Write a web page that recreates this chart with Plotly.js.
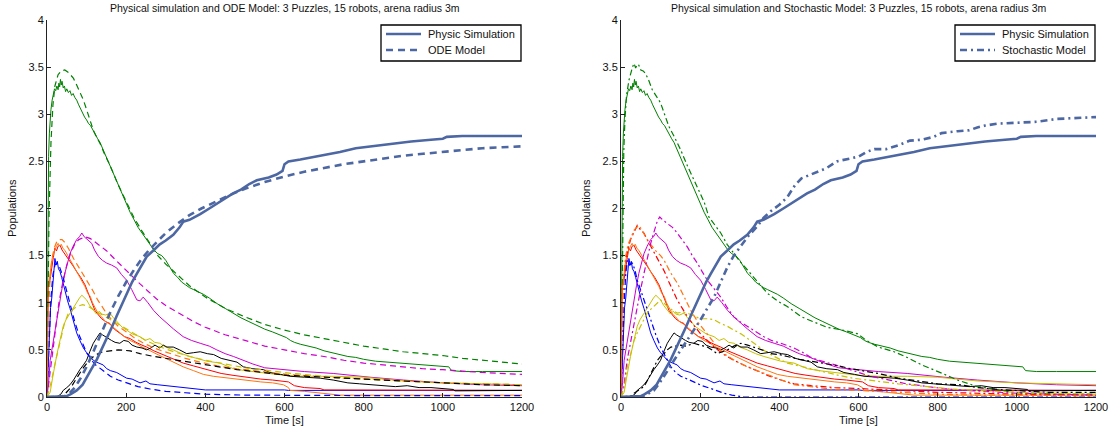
<!DOCTYPE html>
<html>
<head>
<meta charset="utf-8">
<script src="https://cdn.plot.ly/plotly-3.0.1.min.js"></script>
<style>html,body{margin:0;padding:0;background:#fff;}#chart{width:1110px;height:432px;}</style>
</head>
<body>
<div id="chart"></div>
<script>
// ---- Tick labels ----
const xTicks = [0, 200, 400, 600, 800, 1000, 1200];
const yTicks = [0, 0.5, 1, 1.5, 2, 2.5, 3, 3.5, 4];
const yTickText = ["0", "0.5", "1", "1.5", "2", "2.5", "3", "3.5", "4"];

const titleLeft = "Physical simulation and ODE Model: 3 Puzzles, 15 robots, arena radius 3m";
const titleRight = "Physical simulation and Stochastic Model: 3 Puzzles, 15 robots, arena radius 3m";
const xLabel = "Time [s]";
const yLabel = "Populations";
const legendNames = ["Physic Simulation", "ODE Model", "Stochastic Model"];

// ---- Physical simulation series [time, population] ----
const greenSim = [[0,0],[1,1.0],[2,2.0],[4,2.55],[6,2.8],[8,2.95],[10,3.05],[13,3.15],[16,3.22],[19,3.27],[22,3.25],[25,3.3],[28,3.26],[30,3.33],[32,3.29],[34,3.37],[36,3.31],[38,3.35],[41,3.28],[44,3.3],[47,3.24],[50,3.27],[54,3.23],[58,3.25],[62,3.2],[66,3.22],[70,3.18],[75,3.15],[80,3.1],[85,3.05],[90,3.02],[95,2.97],[100,2.94],[105,2.9],[110,2.88],[116,2.83],[122,2.78],[128,2.74],[134,2.7],[140,2.64],[146,2.6],[152,2.53],[158,2.46],[164,2.4],[170,2.34],[176,2.28],[184,2.2],[192,2.12],[200,2.05],[210,1.96],[220,1.88],[230,1.8],[240,1.74],[250,1.68],[260,1.62],[270,1.56],[280,1.52],[290,1.5],[300,1.45],[310,1.38],[320,1.31],[330,1.27],[340,1.22],[350,1.19],[360,1.16],[370,1.14],[380,1.12],[395,1.09],[410,1.05],[430,0.99],[450,0.94],[470,0.89],[490,0.84],[510,0.8],[530,0.76],[550,0.72],[570,0.69],[590,0.66],[605,0.63],[615,0.6],[625,0.58],[640,0.56],[660,0.54],[680,0.52],[700,0.49],[720,0.47],[740,0.45],[760,0.43],[780,0.42],[800,0.4],[830,0.38],[860,0.37],[900,0.36],[950,0.34],[1000,0.33],[1015,0.32],[1022,0.28],[1050,0.27],[1100,0.27],[1200,0.27]];
const blueSim = [[0,0],[3,0.3],[6,0.7],[9,0.95],[12,1.05],[15,1.2],[18,1.38],[20,1.47],[23,1.4],[26,1.44],[29,1.36],[33,1.33],[37,1.27],[41,1.2],[46,1.12],[52,1.02],[58,0.94],[64,0.84],[70,0.75],[75,0.68],[83,0.6],[92,0.52],[100,0.47],[109,0.43],[117,0.39],[125,0.37],[135,0.35],[142,0.34],[151,0.3],[160,0.28],[176,0.26],[190,0.23],[201,0.2],[215,0.19],[235,0.15],[250,0.17],[260,0.14],[280,0.13],[300,0.12],[320,0.11],[340,0.1],[361,0.09],[379,0.08],[400,0.075],[600,0.075],[610,0.07],[1200,0.07]];
const redSim = [[0,0],[1,0.85],[3,1.17],[6,1.2],[9,1.3],[12,1.38],[16,1.48],[20,1.58],[24,1.55],[28,1.6],[33,1.61],[38,1.56],[45,1.52],[52,1.48],[58,1.44],[66,1.39],[75,1.33],[85,1.27],[96,1.19],[103,1.12],[109,1.06],[115,0.98],[121,0.92],[130,0.87],[138,0.83],[148,0.8],[159,0.78],[170,0.72],[184,0.68],[196,0.64],[210,0.62],[225,0.58],[240,0.55],[252,0.53],[270,0.49],[294,0.45],[320,0.4],[344,0.36],[370,0.33],[395,0.3],[420,0.27],[440,0.25],[470,0.23],[500,0.21],[540,0.19],[570,0.18],[597,0.17],[610,0.16],[625,0.12],[650,0.1],[690,0.09],[700,0.075],[1200,0.07]];
const orangeSim = [[0,0],[1,0.9],[3,1.2],[6,1.25],[9,1.35],[12,1.45],[16,1.52],[20,1.57],[24,1.6],[28,1.63],[32,1.6],[36,1.62],[40,1.58],[46,1.55],[52,1.5],[58,1.46],[66,1.4],[75,1.33],[85,1.26],[96,1.17],[103,1.1],[109,1.07],[115,1.0],[121,0.95],[130,0.88],[138,0.85],[148,0.8],[159,0.77],[170,0.73],[184,0.68],[196,0.64],[210,0.6],[225,0.57],[240,0.53],[252,0.51],[270,0.47],[294,0.42],[320,0.37],[344,0.32],[370,0.28],[395,0.24],[420,0.22],[440,0.21],[470,0.19],[500,0.18],[540,0.16],[570,0.15],[597,0.13],[610,0.1],[614,0.07],[650,0.06],[690,0.045],[720,0.03],[740,0.02],[1200,0.02]];
const magentaSim = [[0,0],[4,0.15],[8,0.39],[14,0.55],[20,0.68],[26,0.85],[33,1.03],[39,1.18],[45,1.31],[52,1.42],[58,1.52],[66,1.6],[75,1.67],[82,1.7],[88,1.74],[94,1.7],[100,1.68],[106,1.65],[113,1.63],[120,1.56],[130,1.49],[140,1.45],[151,1.42],[163,1.4],[176,1.37],[188,1.3],[201,1.24],[214,1.14],[227,1.03],[235,1.02],[243,1.06],[255,1.0],[269,0.92],[285,0.85],[303,0.78],[320,0.72],[344,0.64],[365,0.6],[387,0.57],[410,0.54],[429,0.5],[450,0.46],[471,0.43],[500,0.38],[520,0.35],[550,0.31],[597,0.29],[650,0.27],[723,0.25],[780,0.23],[816,0.21],[900,0.18],[1000,0.15],[1100,0.13],[1200,0.12]];
const yellowSim = [[0,0],[4,0.03],[8,0.05],[14,0.2],[20,0.35],[24,0.43],[30,0.55],[36,0.66],[41,0.75],[48,0.82],[58,0.89],[66,0.95],[75,1.01],[82,1.05],[88,1.08],[94,1.06],[100,1.03],[108,0.97],[117,0.92],[125,0.88],[132,0.91],[138,0.88],[148,0.87],[159,0.89],[168,0.84],[180,0.78],[190,0.74],[201,0.71],[215,0.67],[235,0.64],[248,0.6],[260,0.62],[272,0.58],[285,0.57],[300,0.53],[319,0.5],[340,0.46],[361,0.43],[380,0.41],[404,0.38],[437,0.36],[471,0.3],[500,0.28],[555,0.25],[600,0.23],[650,0.22],[723,0.22],[800,0.21],[850,0.19],[900,0.17],[1000,0.15],[1100,0.14],[1200,0.13]];
const blackSim = [[0,0],[24,0.0],[35,0.03],[41,0.07],[50,0.1],[58,0.13],[67,0.18],[75,0.24],[83,0.29],[92,0.34],[100,0.39],[108,0.48],[117,0.57],[126,0.63],[134,0.68],[140,0.66],[147,0.64],[155,0.62],[163,0.6],[172,0.58],[184,0.57],[194,0.6],[205,0.59],[215,0.55],[227,0.53],[240,0.52],[252,0.5],[262,0.52],[273,0.55],[285,0.52],[294,0.55],[303,0.53],[319,0.53],[335,0.5],[353,0.46],[370,0.47],[387,0.48],[405,0.46],[421,0.45],[440,0.41],[460,0.39],[480,0.37],[496,0.32],[520,0.3],[547,0.29],[563,0.26],[590,0.24],[614,0.22],[650,0.21],[690,0.2],[723,0.18],[760,0.15],[790,0.14],[816,0.13],[850,0.12],[880,0.11],[910,0.12],[940,0.1],[970,0.1],[1000,0.09],[1027,0.08],[1030,0.065],[1100,0.065],[1200,0.07]];
const steelSim = [[0,0],[50,0.01],[60,0.03],[75,0.07],[90,0.13],[100,0.2],[110,0.28],[126,0.4],[140,0.52],[151,0.62],[165,0.75],[176,0.86],[190,0.99],[201,1.1],[215,1.22],[227,1.31],[240,1.4],[252,1.49],[270,1.56],[285,1.62],[300,1.66],[319,1.72],[335,1.8],[344,1.86],[360,1.88],[387,1.94],[410,2.0],[429,2.05],[450,2.1],[470,2.16],[490,2.2],[511,2.26],[530,2.3],[560,2.33],[580,2.36],[595,2.4],[600,2.47],[610,2.5],[640,2.52],[690,2.56],[720,2.58],[740,2.6],[780,2.64],[820,2.66],[870,2.69],[920,2.71],[970,2.73],[1000,2.74],[1010,2.76],[1049,2.77],[1200,2.77]];

// ---- ODE model series ----
const greenODE = [[0,0],[2,0.9],[5,1.9],[10,2.7],[15,3.1],[20,3.3],[28,3.42],[36,3.46],[45,3.47],[55,3.44],[67,3.38],[75,3.31],[83,3.24],[92,3.15],[100,3.05],[108,2.95],[117,2.83],[125,2.76],[134,2.69],[145,2.58],[160,2.45],[180,2.25],[200,2.07],[220,1.9],[240,1.76],[260,1.63],[280,1.5],[300,1.41],[330,1.29],[360,1.18],[400,1.06],[450,0.94],[500,0.85],[550,0.77],[600,0.71],[650,0.66],[700,0.62],[750,0.58],[800,0.54],[850,0.51],[900,0.48],[950,0.46],[1000,0.44],[1050,0.41],[1100,0.39],[1150,0.37],[1200,0.35]];
const blueODE = [[0,0],[5,0.6],[10,1.05],[15,1.3],[20,1.4],[25,1.42],[30,1.4],[40,1.28],[50,1.12],[60,0.95],[70,0.8],[80,0.67],[90,0.56],[100,0.47],[120,0.35],[140,0.28],[160,0.22],[180,0.18],[200,0.15],[230,0.11],[260,0.085],[300,0.06],[350,0.045],[400,0.03],[500,0.02],[600,0.018],[800,0.015],[1200,0.015]];
const orangeODE = [[0,0],[3,0.8],[7,1.2],[12,1.45],[18,1.58],[24,1.64],[30,1.67],[38,1.67],[45,1.64],[55,1.57],[67,1.47],[80,1.38],[92,1.29],[105,1.21],[117,1.12],[128,1.03],[138,0.96],[150,0.89],[163,0.82],[180,0.75],[201,0.69],[220,0.63],[240,0.58],[265,0.53],[290,0.49],[320,0.45],[350,0.41],[387,0.37],[430,0.33],[480,0.3],[540,0.27],[606,0.24],[680,0.22],[750,0.2],[816,0.19],[900,0.17],[1000,0.15],[1100,0.14],[1200,0.13]];
const magentaODE = [[0,0],[10,0.35],[20,0.7],[30,1.0],[40,1.22],[50,1.4],[60,1.53],[70,1.62],[80,1.67],[96,1.7],[110,1.68],[130,1.62],[151,1.55],[172,1.46],[193,1.37],[215,1.28],[235,1.2],[256,1.12],[277,1.04],[300,0.97],[336,0.88],[370,0.8],[400,0.74],[450,0.66],[500,0.6],[550,0.54],[600,0.5],[650,0.46],[700,0.43],[750,0.39],[800,0.36],[850,0.34],[900,0.32],[950,0.3],[1000,0.29],[1100,0.26],[1200,0.24]];
const yellowODE = [[0,0],[10,0.15],[20,0.35],[33,0.6],[44,0.78],[54,0.89],[65,0.93],[75,0.96],[90,0.98],[105,0.96],[120,0.92],[140,0.87],[160,0.82],[180,0.77],[200,0.72],[220,0.67],[250,0.6],[280,0.54],[320,0.48],[360,0.43],[400,0.39],[450,0.35],[500,0.31],[560,0.28],[620,0.25],[700,0.22],[800,0.19],[900,0.17],[1000,0.15],[1100,0.14],[1200,0.13]];
const blackODE = [[0,0],[30,0.0],[45,0.03],[60,0.1],[75,0.2],[90,0.3],[105,0.38],[120,0.44],[140,0.48],[160,0.49],[180,0.5],[210,0.49],[235,0.46],[270,0.43],[300,0.41],[336,0.38],[387,0.35],[429,0.32],[480,0.29],[547,0.26],[606,0.23],[700,0.21],[816,0.19],[900,0.17],[1000,0.15],[1100,0.13],[1200,0.12]];
const steelODE = [[0,0],[40,0],[55,0.03],[70,0.1],[85,0.2],[100,0.32],[115,0.46],[130,0.61],[145,0.76],[160,0.9],[180,1.07],[200,1.22],[220,1.35],[240,1.47],[260,1.57],[280,1.66],[300,1.74],[330,1.84],[360,1.93],[390,2.0],[420,2.06],[460,2.14],[500,2.21],[550,2.28],[600,2.34],[650,2.39],[700,2.43],[750,2.47],[800,2.5],[850,2.53],[900,2.56],[950,2.58],[1000,2.6],[1050,2.62],[1100,2.64],[1150,2.65],[1200,2.66]];

// ---- Stochastic model series ----
const greenSto = [[0,0],[2,1.0],[4,1.9],[7,2.6],[10,2.95],[14,3.2],[20,3.36],[25,3.45],[29,3.5],[33,3.54],[37,3.49],[41,3.53],[45,3.52],[50,3.47],[56,3.46],[62,3.43],[70,3.36],[79,3.26],[90,3.18],[100,3.12],[110,3.0],[121,2.87],[136,2.75],[151,2.62],[168,2.45],[184,2.3],[200,2.15],[210,2.07],[222,1.91],[237,1.83],[252,1.74],[268,1.62],[285,1.52],[300,1.44],[319,1.35],[345,1.22],[370,1.1],[395,1.02],[420,0.96],[456,0.85],[490,0.79],[520,0.74],[560,0.71],[598,0.67],[620,0.6],[650,0.53],[690,0.48],[723,0.42],[760,0.34],[790,0.29],[812,0.25],[850,0.18],[880,0.14],[900,0.11],[950,0.08],[989,0.05],[1050,0.04],[1100,0.03],[1200,0.03]];
const blueSto = [[0,0],[4,0.6],[8,1.0],[12,1.3],[16,1.45],[22,1.4],[29,1.42],[35,1.35],[41,1.24],[50,1.13],[58,1.03],[66,0.92],[75,0.82],[88,0.66],[100,0.53],[113,0.42],[126,0.32],[138,0.26],[151,0.22],[168,0.19],[184,0.16],[205,0.12],[227,0.09],[245,0.06],[260,0.04],[280,0.02],[294,0.01],[310,0],[1200,0]];
const redSto = [[0,0],[3,0.9],[7,1.25],[12,1.45],[18,1.58],[25,1.68],[33,1.75],[41,1.82],[50,1.77],[58,1.74],[66,1.67],[75,1.6],[88,1.5],[100,1.42],[110,1.33],[121,1.22],[132,1.12],[142,1.03],[155,0.94],[168,0.85],[184,0.76],[201,0.67],[218,0.6],[235,0.53],[260,0.45],[285,0.39],[310,0.34],[336,0.29],[370,0.23],[404,0.18],[437,0.14],[480,0.12],[540,0.1],[600,0.09],[650,0.08],[700,0.07],[800,0.05],[900,0.04],[1000,0.03],[1100,0.02],[1200,0.02]];
const orangeSto = [[0,0],[3,1.0],[7,1.3],[12,1.5],[18,1.62],[25,1.7],[33,1.77],[40,1.8],[45,1.82],[52,1.78],[62,1.7],[75,1.62],[88,1.55],[100,1.5],[109,1.45],[125,1.32],[142,1.21],[160,1.06],[176,0.92],[195,0.79],[218,0.67],[240,0.55],[260,0.46],[290,0.38],[319,0.32],[350,0.27],[378,0.22],[410,0.17],[437,0.13],[480,0.11],[536,0.08],[600,0.07],[650,0.06],[700,0.05],[760,0.04],[800,0.03],[900,0.02],[1000,0.02],[1200,0.01]];
const magentaSto = [[0,0],[8,0.14],[16,0.4],[25,0.6],[33,0.8],[41,0.96],[50,1.15],[58,1.31],[66,1.47],[75,1.63],[84,1.76],[92,1.87],[98,1.91],[105,1.88],[117,1.84],[130,1.8],[142,1.74],[155,1.66],[168,1.59],[180,1.5],[193,1.42],[205,1.33],[218,1.24],[235,1.15],[252,1.06],[268,0.95],[285,0.85],[300,0.8],[319,0.75],[340,0.69],[361,0.64],[380,0.6],[404,0.57],[437,0.52],[456,0.48],[480,0.42],[500,0.39],[550,0.33],[589,0.28],[630,0.22],[678,0.18],[720,0.14],[760,0.12],[812,0.09],[870,0.07],[950,0.05],[1000,0.04],[1100,0.03],[1200,0.02]];
const yellowSto = [[0,0],[8,0.1],[16,0.32],[25,0.47],[33,0.6],[41,0.68],[50,0.75],[58,0.82],[66,0.89],[75,0.93],[83,0.96],[92,1.0],[100,1.03],[108,1.0],[117,0.96],[130,0.92],[142,0.89],[155,0.9],[168,0.89],[184,0.86],[201,0.83],[218,0.83],[235,0.82],[252,0.78],[269,0.75],[285,0.71],[303,0.67],[320,0.62],[336,0.57],[356,0.51],[378,0.45],[400,0.4],[420,0.36],[450,0.33],[480,0.3],[515,0.26],[550,0.23],[585,0.2],[620,0.18],[660,0.16],[700,0.14],[750,0.12],[800,0.1],[850,0.08],[900,0.07],[1000,0.05],[1100,0.04],[1200,0.03]];
const blackSto = [[0,0],[25,0.01],[33,0.04],[45,0.07],[58,0.11],[66,0.17],[75,0.25],[84,0.32],[92,0.39],[100,0.43],[109,0.46],[117,0.5],[126,0.53],[138,0.54],[151,0.55],[165,0.54],[184,0.57],[200,0.55],[218,0.53],[230,0.5],[243,0.46],[256,0.48],[269,0.5],[285,0.54],[303,0.57],[320,0.55],[336,0.53],[356,0.5],[378,0.46],[400,0.45],[420,0.43],[450,0.4],[480,0.38],[510,0.36],[550,0.33],[580,0.3],[610,0.28],[650,0.25],[700,0.2],[750,0.17],[800,0.14],[856,0.13],[900,0.1],[950,0.08],[1000,0.07],[1078,0.05],[1150,0.05],[1200,0.05]];
const steelSto = [[0,0],[50,0],[66,0.03],[83,0.07],[96,0.14],[109,0.22],[121,0.3],[134,0.39],[151,0.5],[168,0.6],[184,0.71],[201,0.82],[218,0.94],[235,1.06],[252,1.22],[269,1.38],[285,1.5],[303,1.6],[320,1.7],[344,1.81],[360,1.9],[378,1.97],[400,2.04],[420,2.12],[440,2.25],[456,2.32],[480,2.36],[500,2.4],[520,2.43],[545,2.5],[570,2.52],[600,2.55],[620,2.6],[640,2.63],[670,2.63],[700,2.67],[730,2.72],[760,2.73],[790,2.76],[810,2.8],[850,2.82],[880,2.83],[900,2.86],[920,2.88],[950,2.9],[1000,2.91],[1050,2.92],[1100,2.95],[1150,2.96],[1200,2.97]];

// ---- Styles ----
const C = {green:'#008000', blue:'#0000ff', red:'#ff0000', orange:'#ff7410', magenta:'#cc00cc', yellow:'#c8c000', black:'#000000', steel:'#4d67a3'};
const DASH_ODE = '7px,5px';
const DASH_STO = '7px,4px,2px,4px';

function tr(pairs, color, width, dash, xa, ya, name) {
  return {
    type: 'scatter', mode: 'lines',
    x: pairs.map(p => p[0]), y: pairs.map(p => p[1]),
    line: {color: color, width: width, dash: dash},
    xaxis: xa, yaxis: ya, name: name || '', showlegend: false,
    hoverinfo: 'skip'
  };
}

const simSet = [[greenSim,'green'],[blueSim,'blue'],[redSim,'red'],[orangeSim,'orange'],[magentaSim,'magenta'],[yellowSim,'yellow'],[blackSim,'black']];
const odeSet = [[greenODE,'green'],[blueODE,'blue'],[orangeODE,'orange'],[magentaODE,'magenta'],[yellowODE,'yellow'],[blackODE,'black']];
const stoSet = [[greenSto,'green'],[blueSto,'blue'],[redSto,'red'],[orangeSto,'orange'],[magentaSto,'magenta'],[yellowSto,'yellow'],[blackSto,'black']];

const traces = [];
// Left panel
simSet.forEach(s => traces.push(tr(s[0], C[s[1]], 1, 'solid', 'x', 'y')));
odeSet.forEach(s => traces.push(tr(s[0], C[s[1]], 1.2, '6px,4px', 'x', 'y')));
traces.push(tr(steelSim, C.steel, 2.6, 'solid', 'x', 'y', legendNames[0]));
traces.push(tr(steelODE, C.steel, 2.6, DASH_ODE, 'x', 'y', legendNames[1]));
// Right panel
simSet.forEach(s => traces.push(tr(s[0], C[s[1]], 1, 'solid', 'x2', 'y2')));
stoSet.forEach(s => traces.push(tr(s[0], C[s[1]], 1.2, '6px,3px,2px,3px', 'x2', 'y2')));
traces.push(tr(steelSim, C.steel, 2.6, 'solid', 'x2', 'y2', legendNames[0]));
traces.push(tr(steelSto, C.steel, 2.6, DASH_STO, 'x2', 'y2', legendNames[2]));

const W = 1110, H = 432;
const yDom = [35/H, 412/H];
function xa(dom) {
  return {domain: dom, range: [0, 1200], tickmode: 'array', tickvals: xTicks, ticks: 'inside', ticklen: 4,
    tickcolor: '#222', showline: true, linecolor: '#222', linewidth: 1, showgrid: false, zeroline: false,
    automargin: false, fixedrange: true, tickfont: {size: 11, color: '#111'}};
}
function ya(anchor) {
  return {domain: yDom, range: [0, 4], tickmode: 'array', tickvals: yTicks, ticktext: yTickText, ticks: 'inside', ticklen: 4,
    tickcolor: '#222', showline: true, linecolor: '#222', linewidth: 1, showgrid: false, zeroline: false,
    automargin: false, fixedrange: true, anchor: anchor, tickfont: {size: 11, color: '#111'}};
}

// ---- Legend boxes (drawn in paper space, pixel positions converted) ----
const px = v => v / W, py = v => (H - v) / H;
const shapes = [];
const annotations = [
  {text: titleLeft, xref: 'paper', yref: 'paper', x: px(284.5), y: py(8), xanchor: 'center', yanchor: 'middle', showarrow: false, font: {size: 10.5}},
  {text: titleRight, xref: 'paper', yref: 'paper', x: px(858.5), y: py(8), xanchor: 'center', yanchor: 'middle', showarrow: false, font: {size: 10.5}},
  {text: xLabel, xref: 'paper', yref: 'paper', x: px(284.5), y: py(420), xanchor: 'center', yanchor: 'middle', showarrow: false, font: {size: 11}},
  {text: xLabel, xref: 'paper', yref: 'paper', x: px(858.5), y: py(420), xanchor: 'center', yanchor: 'middle', showarrow: false, font: {size: 11}},
  {text: yLabel, xref: 'paper', yref: 'paper', x: px(12), y: py(208), xanchor: 'center', yanchor: 'middle', textangle: -90, showarrow: false, font: {size: 11}},
  {text: yLabel, xref: 'paper', yref: 'paper', x: px(586), y: py(208), xanchor: 'center', yanchor: 'middle', textangle: -90, showarrow: false, font: {size: 11}}
];
function addLegend(x0, labels, dashes) {
  shapes.push({type: 'rect', xref: 'paper', yref: 'paper', x0: px(x0), x1: px(x0 + 140), y0: py(61), y1: py(25),
    line: {color: '#000', width: 1.3}, fillcolor: '#fff', layer: 'above'});
  [34, 50].forEach((yy, i) => {
    shapes.push({type: 'line', xref: 'paper', yref: 'paper', x0: px(x0 + 5), x1: px(x0 + 40), y0: py(yy), y1: py(yy),
      line: {color: C.steel, width: 2.6, dash: dashes[i]}, layer: 'above'});
    annotations.push({text: labels[i], xref: 'paper', yref: 'paper', x: px(x0 + 45), y: py(yy), xanchor: 'left', yanchor: 'middle',
      showarrow: false, font: {size: 11, color: '#111'}});
  });
}
addLegend(381, [legendNames[0], legendNames[1]], ['solid', DASH_ODE]);
addLegend(955, [legendNames[0], legendNames[2]], ['solid', DASH_STO]);

const layout = {
  width: W, height: H, margin: {l: 0, r: 0, t: 0, b: 0}, paper_bgcolor: '#fff', plot_bgcolor: '#fff',
  font: {family: 'Liberation Sans, Arial, Helvetica, sans-serif', size: 11, color: '#111'},
  showlegend: false,
  xaxis: Object.assign(xa([47/W, 522/W]), {anchor: 'y'}),
  yaxis: ya('x'),
  xaxis2: Object.assign(xa([621/W, 1096/W]), {anchor: 'y2'}),
  yaxis2: ya('x2'),
  shapes: shapes,
  annotations: annotations
};

Plotly.newPlot('chart', traces, layout, {staticPlot: true, displayModeBar: false});
</script>
</body>
</html>
